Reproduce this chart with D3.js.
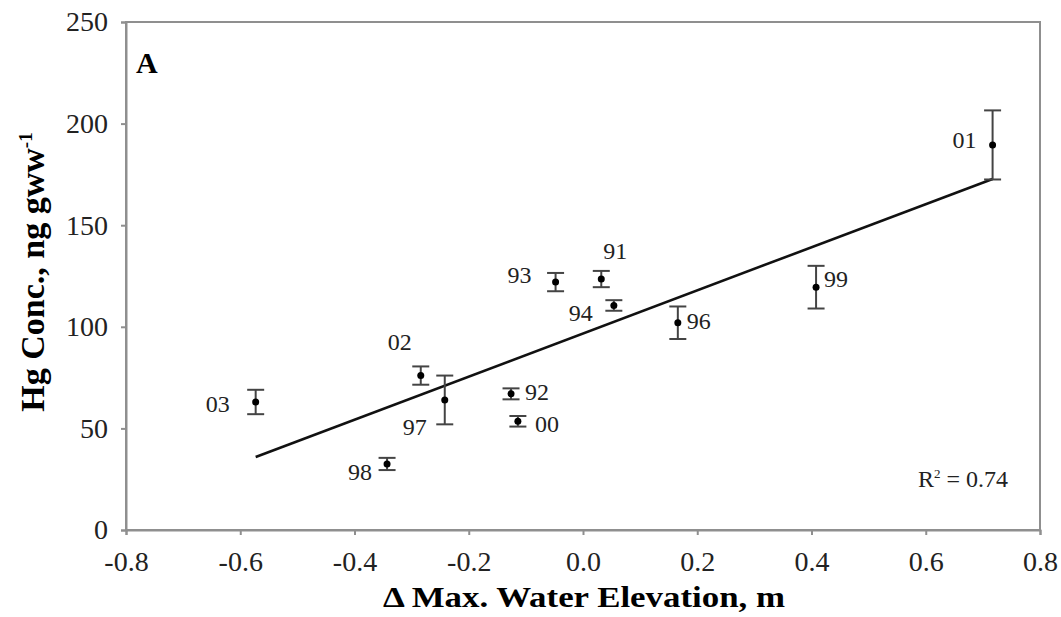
<!DOCTYPE html>
<html lang="en">
<head>
    <meta charset="UTF-8">
    <title>Hg Concentration vs Water Elevation</title>
    <script src="https://cdn.jsdelivr.net/npm/d3@7"></script>
    <style>
        body { margin: 0; background: #fff; }
        svg { font-family: "Liberation Serif", "Times New Roman", serif; }
    </style>
</head>
<body>
    <svg width="1061" height="617"></svg>

    <script>
        // data
        const years  = ["01", "99", "96", "91", "94", "93", "92", "00", "97", "02", "98", "03"];
        const elev   = [0.717, 0.408, 0.166, 0.032, 0.054, -0.048, -0.126, -0.114, -0.242, -0.284, -0.343, -0.573];
        const hg     = [189.5, 119.5, 102, 123.5, 110.5, 122, 67, 53.5, 64, 76, 32.5, 63];
        const hgErr  = [17, 10.5, 8, 4, 2.6, 4.5, 2.7, 2.6, 12, 4.5, 3, 6];
        const xTicks = [-0.8, -0.6, -0.4, -0.2, 0.0, 0.2, 0.4, 0.6, 0.8];
        const yTicks = [0, 50, 100, 150, 200, 250];
        // label placement relative to each point: [dx, dy, anchor]
        const labelOffset = [[-16, -5, "end"], [8, -8, "start"], [9, -2, "start"], [14, -28, "middle"],
                             [-21, 8, "end"], [-24, -7, "end"], [14, -2, "start"], [17, 3, "start"],
                             [-18, 27, "end"], [-21, -34, "middle"], [-15, 8, "end"], [-26, 2, "end"]];

        const svg = d3.select("svg");
        const margin = {left: 126, right: 21, top: 22, bottom: 87};
        const width = 1061, height = 617;
        const axisGrey = "#8f8f8f";
        const serif = "'Liberation Serif', 'Times New Roman', serif";

        const x = d3.scaleLinear().domain([-0.8, 0.8]).range([margin.left, width - margin.right]);
        const y = d3.scaleLinear().domain([0, 250]).range([height - margin.bottom, margin.top]);

        // frame
        svg.append("rect")
            .attr("x", x(-0.8)).attr("y", y(250))
            .attr("width", x(0.8) - x(-0.8)).attr("height", y(0) - y(250))
            .attr("fill", "none").attr("stroke", axisGrey).attr("stroke-width", 2);

        function styleAxis(g) {
            g.selectAll("path, line").attr("stroke", axisGrey).attr("stroke-width", 2);
            g.selectAll("text").style("font-family", serif).style("font-size", "28px").attr("fill", "#222");
        }

        svg.append("g")
            .attr("transform", `translate(0,${y(0)})`)
            .call(d3.axisBottom(x).tickValues(xTicks).tickSize(5).tickPadding(16)
                .tickFormat(d => d3.format(".1f")(d).replace("−", "-")))
            .call(styleAxis);

        svg.append("g")
            .attr("transform", `translate(${x(-0.8)},0)`)
            .call(d3.axisLeft(y).tickValues(yTicks).tickSize(5).tickPadding(13))
            .call(styleAxis);

        // least squares fit
        const n = elev.length;
        const mx = d3.mean(elev), my = d3.mean(hg);
        let sxy = 0, sxx = 0;
        for (let i = 0; i < n; i++) {
            sxy += (elev[i] - mx) * (hg[i] - my);
            sxx += (elev[i] - mx) ** 2;
        }
        const slope = sxy / sxx, intercept = my - slope * mx;
        const ext = d3.extent(elev);
        svg.append("line")
            .attr("x1", x(ext[0])).attr("y1", y(intercept + slope * ext[0]))
            .attr("x2", x(ext[1])).attr("y2", y(intercept + slope * ext[1]))
            .attr("stroke", "#111").attr("stroke-width", 2.6);

        // error bars
        const idx = d3.range(n);
        const eb = svg.append("g").attr("stroke", "#444").attr("stroke-width", 2);
        eb.selectAll(".v").data(idx).join("line")
            .attr("x1", i => x(elev[i])).attr("x2", i => x(elev[i]))
            .attr("y1", i => y(hg[i] - hgErr[i])).attr("y2", i => y(hg[i] + hgErr[i]));
        eb.selectAll(".t").data(idx).join("line")
            .attr("x1", i => x(elev[i]) - 8.5).attr("x2", i => x(elev[i]) + 8.5)
            .attr("y1", i => y(hg[i] + hgErr[i])).attr("y2", i => y(hg[i] + hgErr[i]));
        eb.selectAll(".b").data(idx).join("line")
            .attr("x1", i => x(elev[i]) - 8.5).attr("x2", i => x(elev[i]) + 8.5)
            .attr("y1", i => y(hg[i] - hgErr[i])).attr("y2", i => y(hg[i] - hgErr[i]));

        svg.selectAll(".pt").data(idx).join("circle")
            .attr("cx", i => x(elev[i])).attr("cy", i => y(hg[i]))
            .attr("r", 3.5).attr("fill", "#000");

        svg.selectAll(".lbl").data(idx).join("text")
            .attr("x", i => x(elev[i]) + labelOffset[i][0])
            .attr("y", i => y(hg[i]) + labelOffset[i][1])
            .attr("text-anchor", i => labelOffset[i][2])
            .attr("dominant-baseline", "central")
            .attr("font-size", 24).attr("fill", "#222")
            .text(i => years[i]);

        svg.append("text").attr("x", 136).attr("y", 73)
            .attr("font-size", 30).attr("font-weight", "bold").text("A");

        svg.append("text").attr("x", 918).attr("y", 487)
            .attr("font-size", 24).attr("fill", "#222")
            .html('R<tspan dy="-9" font-size="13">2</tspan><tspan dy="9"> = 0.74</tspan>');

        svg.append("text").attr("x", 584).attr("y", 607)
            .attr("text-anchor", "middle").attr("font-size", 30).attr("font-weight", "bold")
            .attr("textLength", 402).attr("lengthAdjust", "spacingAndGlyphs")
            .text("Δ Max. Water Elevation, m");

        svg.append("text")
            .attr("transform", `translate(44,272) rotate(-90)`)
            .attr("text-anchor", "middle").attr("font-size", 34).attr("font-weight", "bold")
            .html('Hg Conc., ng gww<tspan dy="-12" font-size="19">-1</tspan>');
    </script>
</body>
</html>
